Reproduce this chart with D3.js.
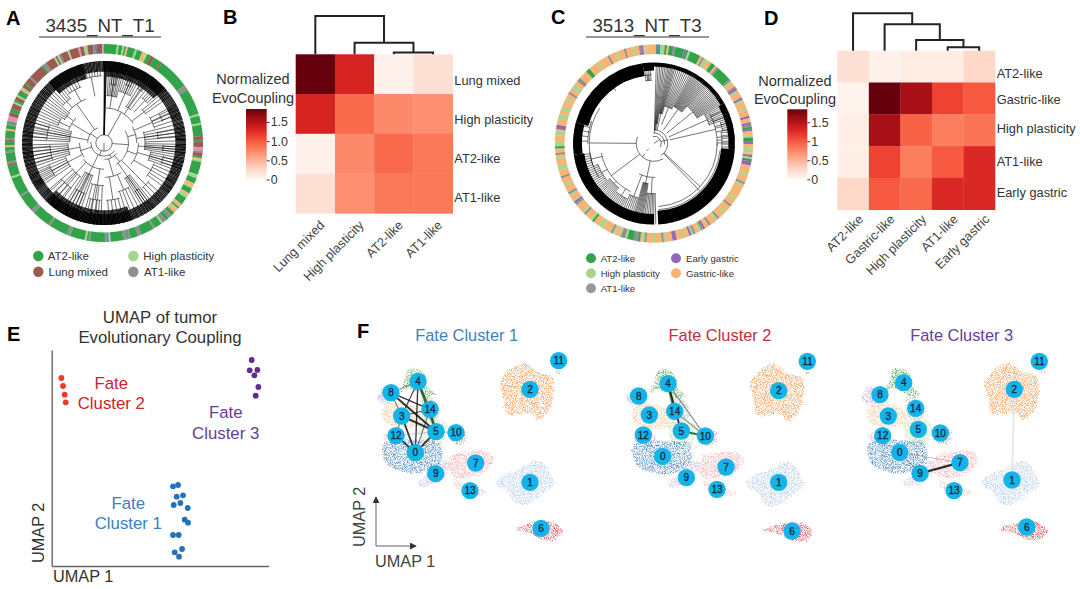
<!DOCTYPE html>
<html><head><meta charset="utf-8">
<script src="https://cdn.jsdelivr.net/npm/d3@7"></script>
<style>html,body{margin:0;background:#fff}svg{display:block}text{font-family:"Liberation Sans",Arial,sans-serif;fill:#333}</style>
</head><body><svg id="c" width="1080" height="589"></svg>
<script>
// ---------- panel A / C : ring run lengths [category, span]
const ringColors={g:"#33a34a",l:"#a5d58f",b:"#9a5c50",y:"#8f8f8f",o:"#f7b473",p:"#e58fb4",u:"#5f7fc0",v:"#9268b8"};
const ringA=[["g",7],["l",1],["g",2],["l",1],["g",1],["o",1],["g",4],["l",1],["g",3],["o",2],["l",1],["g",2],["b",2],["g",4],["b",1],["g",17],["y",3],["g",14],["l",1],["g",4],["l",1],["g",6],["b",2],["g",1],["b",3],["p",2],["y",1],["b",2],["g",1],["o",1],["l",1],["g",7],["l",2],["g",3],["o",2],["l",1],["g",3],["o",1],["l",2],["g",4],["o",2],["g",1],["l",1],["o",2],["g",2],["y",2],["g",2],["y",2],["l",1],["g",4],["y",1],["g",7],["y",2],["g",4],["y",1],["g",1],["y",2],["g",7],["l",1],["u",1],["y",1],["g",8],["y",1],["g",1],["l",1],["g",8],["y",2],["g",10],["y",1],["g",10],["y",2],["g",9],["y",1],["g",10],["l",1],["g",6],["b",1],["y",1],["g",5],["y",1],["g",2],["o",1],["g",2],["b",1],["y",1],["g",4],["o",1],["g",2],["y",1],["g",1],["p",3],["b",2],["g",2],["b",3],["l",1],["g",1],["b",2],["l",1],["g",2],["b",1],["l",2],["b",2],["g",1],["b",3],["y",1],["b",8],["g",1],["y",2],["b",5],["l",1],["b",1],["l",1],["y",1],["b",4],["l",1],["b",5],["p",1],["b",2],["l",2],["b",3],["y",1],["u",1],["b",3],["p",1]];
const ringC=[["o",1],["u",1],["g",1],["l",2],["g",1],["o",1],["g",2],["y",1],["g",4],["v",1],["g",1],["l",1],["g",5],["o",1],["y",1],["l",2],["o",2],["g",2],["o",1],["y",1],["g",7],["y",1],["l",1],["o",2],["y",1],["v",1],["l",1],["o",3],["v",1],["l",1],["o",3],["l",1],["o",3],["v",1],["o",2],["v",1],["y",1],["g",1],["v",1],["o",2],["l",1],["g",2],["v",1],["o",2],["l",2],["o",1],["v",1],["l",1],["g",1],["v",2],["o",4],["l",1],["o",3],["y",1],["l",1],["o",6],["l",1],["o",3],["y",1],["o",3],["l",1],["o",3],["y",1],["l",1],["o",3],["y",1],["o",2],["v",1],["y",1],["l",1],["o",2],["y",1],["l",1],["v",1],["o",2],["l",1],["o",3],["v",2],["o",3],["l",1],["y",1],["o",3],["l",1],["o",3],["y",1],["l",1],["o",1],["g",1],["y",2],["g",3],["l",1],["y",2],["l",1],["o",2],["l",1],["y",1],["o",4],["l",2],["o",3],["g",1],["l",1],["o",3],["y",1],["l",1],["o",4],["y",1],["u",1],["o",3],["l",1],["y",1],["o",3],["l",1],["o",3],["y",1],["o",3],["l",2],["o",3],["l",1],["o",1],["y",1],["o",2],["g",1],["l",2],["o",3],["l",2],["o",1],["v",2],["o",3],["l",2],["o",2],["l",2],["o",3],["l",1],["o",2],["y",1],["o",2],["l",2],["o",2],["y",2],["o",4],["g",2],["o",4],["l",1],["o",5],["y",1],["o",3],["l",1],["o",3],["y",1],["o",3],["l",1],["o",2],["y",1],["v",1],["o",1],["l",1],["o",3]];
// tree clades: [angle start, angle end, arc radius, leaves to rim, parent radius]
const treeA=[[0,360,.1,0,0],[125,275,.16,0,.1],[0,2,.1,8,.1],
[3,56,.43,0,.1],[3,16,.58,8,.43],[16,30,.66,7,.43],[30,40,.52,3,.43],[40,48,.72,4,.52],[48,56,.62,3,.43],[6,12,.72,3,.58],[20,26,.76,3,.66],[31,37,.78,3,.52],
[60,128,.3,0,.1],[60,90,.4,0,.3],[60,74,.64,4,.4],[74,90,.5,5,.4],[90,128,.42,0,.3],[90,100,.5,5,.42],[100,112,.58,5,.42],[112,128,.66,5,.42],[62,70,.76,3,.64],[78,86,.66,3,.5],[92,98,.72,3,.5],[102,110,.74,3,.58],
[130,178,.2,0,.16],[130,150,.3,0,.2],[130,140,.72,3,.3],[140,150,.5,5,.3],[150,178,.42,0,.2],[150,164,.62,4,.42],[164,178,.7,4,.42],[142,148,.7,3,.5],
[180,232,.32,0,.16],[180,198,.52,4,.32],[198,214,.42,6,.32],[214,232,.5,4,.32],[183,195,.7,4,.52],[200,212,.66,4,.42],[216,230,.68,4,.5],
[234,270,.3,0,.16],[234,250,.5,5,.3],[250,270,.44,7,.3],[236,248,.72,4,.5],[252,268,.66,5,.44],
[271,338,.2,0,.1],[271,290,.42,7,.2],[290,312,.46,0,.2],[290,300,.6,4,.46],[300,312,.56,5,.46],[312,338,.58,0,.2],[312,324,.68,5,.58],[324,338,.74,5,.58],[273,288,.7,4,.42],[340,358,.82,8,.58]];
const bandA=[[0,360,.87],[2,48,.81],[318,345,.81],[160,225,.82]];
const treeC=[[350,480,.09,0,0],[0,150,.17,0,.09],[355,95,.13,0,.09],[1,5,.17,3,.13],[5,10,.25,4,.17],[10,16,.38,6,.17],[16,28,.48,8,.25],[28,42,.52,14,.2],[42,60,.62,16,.2],[60,72,.72,8,.2],[62,92,.78,6,.2],[72,80,.86,5,.78],[80,94,.84,6,.78],
[96,176,.82,0,.17],[90,176,.78,0,.17],[150,292,.22,0,.17],
[178,206,.42,0,.22],[178,188,.62,7,.42],[188,196,.5,8,.42],[196,206,.7,6,.42],[206,260,.66,0,.22],[206,218,.76,8,.66],[218,232,.7,10,.66],[232,250,.74,10,.66],[250,262,.8,6,.66],
[238,303,.8,0,.22],[270,290,.82,5,.8],[290,358,.85,0,.8],[352,358,.78,4,.85]];
const bandC=[[94,177,.83],[285,352,.84],[262,285,.89],[180,262,.87],[352,360,.9],[60,94,.92],[0,60,.95]];
// ---------- panels B / D : heat maps
const catsB=["Lung mixed","High plasticity","AT2-like","AT1-like"];
const valuesB=[[1.84,1.32,.03,.2],[1.32,.92,.74,.7],[.03,.74,.92,.84],[.2,.7,.84,.84]];
const dendB=[0,[1,[2,3,.05],.3],1];
const catsD=["AT2-like","Gastric-like","High plasticity","AT1-like","Early gastric"];
const valuesD=[[.2,.03,.1,.1,.27],[.02,1.84,1.58,1.12,1.0],[.07,1.58,.95,.8,.86],[.07,1.12,.8,1.0,1.28],[.27,1.0,.92,1.28,1.28]];
const dendD=[0,[1,[2,[3,4,.09],.286],.706],1];
const barTicksB=[0,.5,1,1.5],barTicksD=[0,.5,1,1.5];
// ---------- panel E
const fate1=[[519,559],[534,555],[530,590],[549,586],[521,615],[541,609],[563,624],[554,659],[564,668],[519,705],[536,705],[546,747],[524,757],[537,770]];
const fate2=[[184,234],[189,258],[194,284],[197,307]];
const fate3=[[755,180],[749,211],[772,210],[763,226],[775,261],[767,287]];
// ---------- panel F : cluster outlines in UMAP units, node centres, edges
const clusterOrder=["3","8","5","14","10","12","4","9","7","13","1","2","11","6","0"];
const clusterColor={"0":"#4a87c0","1":"#b4cdea","2":"#f79a4c","3":"#fac99a","4":"#5aa956","5":"#c2e2ad","6":"#d8484f","7":"#f7adad","8":"#bba1da","9":"#cbb7e0","10":"#b89a93","11":"#c2a39d","12":"#e9acda","13":"#f9c0c3","14":"#bbb3b3"};
const outline={"0":[[130,372],[180,358],[250,362],[295,365],[305,420],[280,445],[235,460],[170,450],[135,425]],
"1":[[470,482],[530,450],[600,422],[635,470],[645,490],[610,520],[550,555],[520,545],[505,515],[475,500]],
"2":[[480,190],[510,150],[555,130],[590,155],[635,170],[640,230],[620,280],[590,300],[575,280],[500,280],[490,230]],
"3":[[135,255],[170,245],[230,265],[245,300],[225,320],[170,320],[135,305],[125,280]],
"4":[[205,150],[235,147],[258,170],[262,200],[285,222],[260,230],[235,215],[200,205],[180,215],[195,180]],
"5":[[240,300],[300,300],[325,320],[315,350],[300,375],[250,370]],
"6":[[522,628],[570,612],[630,605],[668,630],[650,655],[610,660],[570,640]],
"7":[[340,405],[380,395],[430,392],[460,410],[445,445],[400,470],[340,470],[325,440]],
"8":[[130,200],[150,205],[160,240],[125,250],[110,235],[120,215]],
"9":[[315,420],[328,425],[315,465],[280,490],[240,500],[235,485],[255,470],[285,440]],
"10":[[330,330],[380,335],[370,370],[335,365]],
"11":[[645,152],[660,155],[655,162]],
"12":[[130,345],[195,340],[190,365],[140,365]],
"13":[[340,480],[380,495],[440,515],[420,525],[360,510],[345,500]],
"14":[[250,225],[285,240],[300,280],[280,300],[250,290]]};
const nodes1={"11":[656,122],"2":[570,208],"4":[234,184],"8":[153,218],"14":[270,268],"3":[185,288],"5":[288,335],"10":[348,338],"12":[168,347],"0":[226,398],"7":[407,429],"9":[287,461],"13":[390,512],"1":[570,487],"6":[603,625]};
const nodes2={"11":[652,121],"2":[566,209],"4":[234,188],"8":[146,225],"14":[254,271],"3":[178,282],"5":[274,330],"10":[346,345],"12":[160,342],"0":[218,406],"7":[408,438],"9":[289,470],"13":[381,505],"1":[566,484],"6":[606,630]};
const nodes3={"11":[643,124],"2":[568,208],"4":[236,188],"8":[165,224],"14":[272,265],"3":[190,288],"5":[280,328],"10":[346,339],"12":[173,347],"0":[224,397],"7":[405,428],"9":[285,460],"13":[387,512],"1":[561,480],"6":[605,621]};
// edges: [from, to, weight, kind]
const edges1=[["4","5",3,"g"],["4","14",2,"g"],["4","8",.8,"k"],["4","3",1.4,"k"],["4","0",1.8,"k"],["8","14",2,"k"],["8","5",2.6,"k"],["8","3",1,"k"],["3","14",1.2,"k"],["3","5",2.6,"k"],["3","0",2.4,"k"],["3","12",1,"k"],["14","5",2.5,"g"],["14","0",1,"k"],["5","0",2.2,"k"],["12","0",2.4,"k"],["12","5",.6,"y"],["5","10",.6,"y"]];
const edges2=[["4","14",3.8,"g"],["4","5",1.5,"k"],["4","10",1.5,"y"],["14","10",1.5,"y"],["14","5",1.5,"k"],["5","10",2.5,"g"]];
const edges3=[["9","7",3.2,"k"],["0","9",.7,"k"],["0","7",.7,"y"],["2","1",2.4,"l"]];
const fatePanels=[["Fate Cluster 1",nodes1,edges1,0,0,"#3f7fc0",466.7],["Fate Cluster 2",nodes2,edges2,250,1,"#c2303c",720],["Fate Cluster 3",nodes3,edges3,485,0,"#6a3d9a",961.7]];

const svg=d3.select("#c");
const txt=(t,x,y,size,o={})=>{const e=svg.append("text").attr("x",x).attr("y",y).attr("font-size",size).text(t);
 if(o.anchor)e.attr("text-anchor",o.anchor); if(o.fill)e.style("fill",o.fill); if(o.weight)e.attr("font-weight",o.weight); if(o.rotate!==undefined)e.attr("transform",`rotate(${o.rotate} ${x} ${y})`); return e;};
[["A",6,25],["B",223,24],["C",551,24],["D",764,25],["E",7,341],["F",357,338]].forEach(([t,x,y])=>txt(t,x,y,20,{weight:"bold",fill:"#000"}));

const defs=svg.append("defs");
const f=defs.append("filter").attr("id","speck").attr("filterUnits","userSpaceOnUse").attr("x",330).attr("y",340).attr("width",750).attr("height",240);
f.append("feTurbulence").attr("type","fractalNoise").attr("baseFrequency","1.1").attr("numOctaves",2).attr("seed",4).attr("result","n");
f.append("feDisplacementMap").attr("in","SourceGraphic").attr("in2","n").attr("scale",5).attr("result","d");
f.append("feColorMatrix").attr("in","n").attr("type","matrix").attr("values","0 0 0 0 0 0 0 0 0 0 0 0 0 0 0 2.6 0 0 0 -1").attr("result","m");
f.append("feComposite").attr("in","d").attr("in2","m").attr("operator","in").attr("result","s");
f.append("feGaussianBlur").attr("in","s").attr("stdDeviation",.4);

// ---- circular trees
const rad=d=>(d-90)*Math.PI/180;
function circular(cx,cy,ring,tree,band,treeR,dash){
 const g=svg.append("g").attr("transform",`translate(${cx},${cy})`);
 const r=d3.scaleLinear().domain([0,1]).range([0,treeR]);
 const total=d3.sum(ring,d=>d[1]);
 const ang=d3.scaleLinear().domain([0,total]).range([0,2*Math.PI]);
 let cum=0; const arcs=ring.map(d=>{const a={cat:d[0],s:cum,e:cum+d[1]};cum+=d[1];return a;});
 const arc=d3.arc().innerRadius(89.5).outerRadius(99);
 g.selectAll("path.ring").data(arcs).join("path").attr("class","ring").attr("d",d=>arc({startAngle:ang(d.s),endAngle:ang(d.e)})).attr("fill",d=>ringColors[d.cat]).attr("stroke",d=>ringColors[d.cat]).attr("stroke-width",.15);
 const p=d3.path();
 const pt=(a,q)=>[r(q)*Math.cos(rad(a)),r(q)*Math.sin(rad(a))];
 tree.forEach(([a0,a1,q,n,par])=>{
  p.moveTo(...pt(a0,q)); p.arc(0,0,r(q),rad(a0),rad(a1));
  const m=(a0+a1)/2; p.moveTo(...pt(m,par)); p.lineTo(...pt(m,q));
  if(n>0) d3.range(n).forEach(i=>{const a=a0+(a1-a0)*(i+.5)/n; p.moveTo(...pt(a,q)); p.lineTo(...pt(a,1));});
 });
 g.append("path").attr("d",p.toString()).attr("fill","none").attr("stroke","#000").attr("stroke-width",.55);
 band.forEach(([a0,a1,q])=>{
  const b=d3.path(),mid=(q+1)/2; b.arc(0,0,r(mid),rad(a0),rad(a1));
  g.append("path").attr("d",b.toString()).attr("fill","none").attr("stroke","#000").attr("stroke-width",r(1-q)).attr("stroke-dasharray",dash);
 });
}
circular(104,143,ringA,treeA,bandA,82,"1 0.25");
circular(654,143.5,ringC,treeC,bandC,81,"none");

// titles & legends
[["3435_NT_T1",100,39,161],["3513_NT_T3",647,586,709]].forEach(([t,x,a,b])=>{txt(t,x,31.7,18.7,{anchor:"middle"});svg.append("line").attr("x1",a).attr("x2",b).attr("y1",37).attr("y2",37).attr("stroke","#333");});
const legendA=[["AT2-like","#33a34a",38.3,256,47.7],["Lung mixed","#9a5c50",38.3,271.7,48.5],["High plasticity","#a5d58f",133.3,256,143.3],["AT1-like","#8f8f8f",133.3,271.7,144]];
legendA.forEach(([t,c,x,y,tx])=>{svg.append("circle").attr("cx",x).attr("cy",y).attr("r",5.2).attr("fill",c);txt(t,tx,y+4,11.5);});
const legendC=[["AT2-like","#33a34a",591,258.3,600.7],["High plasticity","#a5d58f",591,273.3,600.7],["AT1-like","#999999",591,288.3,600.7],["Early gastric","#9268b8",676,258.3,686],["Gastric-like","#f7b473",676,273.3,686]];
legendC.forEach(([t,c,x,y,tx])=>{svg.append("circle").attr("cx",x).attr("cy",y).attr("r",5).attr("fill",c);txt(t,tx,y+3.5,9.6);});

// ---- heat maps
const color=d3.scaleSequential(d3.interpolateReds).domain([0,1.84]);
function heat(cats,vals,x0,x1,y0,y1,dend,o){
 const x=d3.scaleBand().domain(cats).range([x0,x1]),y=d3.scaleBand().domain(cats).range([y0,y1]);
 const rows=vals.flatMap((r,i)=>r.map((v,j)=>({r:cats[i],c:cats[j],v})));
 svg.append("g").selectAll("rect").data(rows).join("rect").attr("x",d=>x(d.c)).attr("y",d=>y(d.r)).attr("width",x.bandwidth()+.3).attr("height",y.bandwidth()+.3).attr("fill",d=>color(d.v));
 cats.forEach((c,i)=>{
  txt(c,o.rowX,y(c)+y.bandwidth()/2+o.rowDy[i]+4.4,12.8);
  txt(c,x(c)+x.bandwidth()/2+o.colDx,o.colY,12.8,{anchor:"end",rotate:-45}).style("fill","#444");
 });
 const hy=d3.scaleLinear().domain([0,1]).range([y0,o.top]);
 const dp=d3.path();
 const walk=n=>{ if(typeof n==="number") return {x:x(cats[n])+x.bandwidth()/2,h:0};
  const a=walk(n[0]),b=walk(n[1]),h=n[2];
  dp.moveTo(a.x,hy(a.h));dp.lineTo(a.x,hy(h));dp.lineTo(b.x,hy(h));dp.lineTo(b.x,hy(b.h));
  return {x:(a.x+b.x)/2,h}; };
 walk(dend);
 svg.append("path").attr("d",dp.toString()).attr("fill","none").attr("stroke","#222").attr("stroke-width",2);
 // colour bar
 const id="grad"+x0,gr=defs.append("linearGradient").attr("id",id).attr("x1",0).attr("x2",0).attr("y1",1).attr("y2",0);
 d3.range(0,1.0001,.1).forEach(t=>gr.append("stop").attr("offset",t).attr("stop-color",color(t*1.84)));
 const b=o.bar; svg.append("rect").attr("x",b[0]).attr("y",b[2]).attr("width",b[1]-b[0]).attr("height",b[3]-b[2]).attr("fill",`url(#${id})`);
 const bs=d3.scaleLinear().domain([0,1.84]).range([b[3],b[2]]);
 const ax=svg.append("g").attr("transform",`translate(${b[1]},0)`).call(d3.axisRight(bs).tickValues(o.ticks).tickSize(3).tickPadding(1).tickFormat(o.fmt));
 ax.select(".domain").remove(); ax.selectAll("line").attr("stroke","#333");
 ax.selectAll("text").attr("font-size",12.4);
 txt("Normalized",o.nx,o.ny[0],14.5,{anchor:"middle"}); txt("EvoCoupling",o.nx,o.ny[1],14.5,{anchor:"middle"});
}
heat(catsB,valuesB,295.7,452.7,54.3,213.3,dendB,{rowX:454.3,rowDy:[6,6,5,4],colDx:10,colY:226,top:16,bar:[246,266.7,109,179.5],ticks:barTicksB,fmt:d=>d===0?"0":d3.format(".1f")(d),nx:253,ny:[84.3,103]});
heat(catsD,valuesD,837.3,995,50.7,209.7,dendD,{rowX:996.7,rowDy:[7,1,-2,0,-1],colDx:11,colY:220,top:13.3,bar:[787.3,807.3,109.3,179.3],ticks:barTicksD,fmt:d3.format(".1~f"),nx:795,ny:[86,104.3]});

// ---- panel E
const ex=d3.scaleLinear().domain([155,806]).range([51.7,268.7]),ey=d3.scaleLinear().domain([798,150]).range([566,350]);
const axE=svg.append("g").attr("transform","translate(0,566)").call(d3.axisBottom(ex).tickValues([]).tickSizeOuter(0));
const ayE=svg.append("g").attr("transform","translate(51.7,0)").call(d3.axisLeft(ey).tickValues([]).tickSizeOuter(0));
[axE,ayE].forEach(a=>a.select(".domain").attr("stroke","#666").attr("stroke-width",1.4));
[[fate1,"#2472b9"],[fate2,"#f0392b"],[fate3,"#5e2d8e"]].forEach(([pts,c])=>svg.append("g").selectAll("circle").data(pts).join("circle").attr("cx",d=>ex(d[0])).attr("cy",d=>ey(d[1])).attr("r",2.9).attr("fill",c));
txt("UMAP of tumor",160,322.7,16.8,{anchor:"middle"});txt("Evolutionary Coupling",160,342.7,16.8,{anchor:"middle"});
txt("UMAP 1",53,581.7,16.3);txt("UMAP 2",44,563,16.3,{rotate:-90});
[["Fate","Cluster 2",111.3,389,"#c8242b"],["Fate","Cluster 3",225.7,418.3,"#6b3a96"],["Fate","Cluster 1",128.3,509,"#3a80c4"]].forEach(([a,b,x,y,c])=>{txt(a,x,y,16.8,{anchor:"middle",fill:c});txt(b,x,y+20.2,16.8,{anchor:"middle",fill:c});});

// ---- panel F
const blob=d3.line().curve(d3.curveCatmullRomClosed);
const edgeColor={k:"#111",g:"#1c5c1c",y:"#777",l:"#e2e2e2"};
const edgeW=d3.scaleLinear().domain([0,3.5]).range([0,2.6]);
fatePanels.forEach(([title,nodes,edges,dx,dy,c,tx])=>{
 const x=d3.scaleLinear().domain([0,250]).range([340+dx,340+dx+250/3]),y=d3.scaleLinear().domain([0,260]).range([320+dy,320+dy+260/3]);
 const g=svg.append("g");
 g.selectAll("path").data(clusterOrder).join("path").attr("d",k=>blob(outline[k].map(p=>[x(p[0]),y(p[1])]))).attr("fill",k=>clusterColor[k]).attr("filter","url(#speck)");
 g.selectAll("line").data(edges).join("line").attr("x1",d=>x(nodes[d[0]][0])).attr("y1",d=>y(nodes[d[0]][1])).attr("x2",d=>x(nodes[d[1]][0])).attr("y2",d=>y(nodes[d[1]][1])).attr("stroke",d=>edgeColor[d[3]]).attr("stroke-width",d=>edgeW(d[2])).attr("stroke-opacity",.85);
 const ks=Object.keys(nodes);
 g.selectAll("circle").data(ks).join("circle").attr("cx",k=>x(nodes[k][0])).attr("cy",k=>y(nodes[k][1])).attr("r",8.7).attr("fill","#12b4ea");
 g.selectAll("text").data(ks).join("text").attr("x",k=>x(nodes[k][0])).attr("y",k=>y(nodes[k][1])+3.5).attr("text-anchor","middle").attr("font-size",10).text(k=>k).style("fill","#16283a").style("stroke","#16283a").style("stroke-width",.3);
 txt(title,tx,341,16.4,{anchor:"middle",fill:c});
});
defs.append("marker").attr("id","ah").attr("viewBox","0 0 8 8").attr("refX",7).attr("refY",4).attr("markerWidth",7).attr("markerHeight",7).attr("orient","auto").append("path").attr("d","M0,0L8,4L0,8Z").attr("fill","#333");
[[376,546,376,497],[376,546,416,546]].forEach(([a,b,c,d])=>svg.append("line").attr("x1",a).attr("y1",b).attr("x2",c).attr("y2",d).attr("stroke","#666").attr("stroke-width",1).attr("marker-end","url(#ah)"));
txt("UMAP 1",375,567.3,16.3,{fill:"#444"});txt("UMAP 2",365,547,16.3,{rotate:-90,fill:"#444"});
</script></body></html>
